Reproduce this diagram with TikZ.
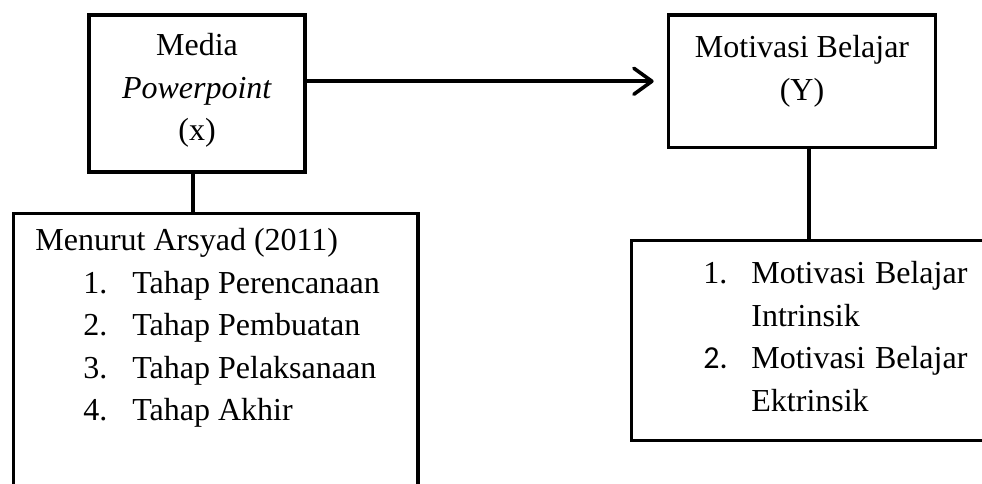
\documentclass[tikz,border=0pt]{standalone}
\usepackage{fontspec}
\setmainfont{Liberation Serif}
\newfontfamily\numfont{Carlito}
\usetikzlibrary{arrows.meta, positioning}

\begin{document}
\begin{tikzpicture}[
  x=0.5pt, y=-0.5pt,
  box/.style={draw=black, line width=1.8pt, inner sep=0pt},
  txt/.style={inner sep=0pt, font=\fontsize{16}{21.25}\selectfont},
  conn/.style={line width=1.8pt},
  arr/.style={conn, -{Straight Barb[length=9pt, width=13pt, round]}, shorten >=6.5pt}
]
  \useasboundingbox (0,0) rectangle (982,483);
  \clip (0,0) rectangle (982,483);

  \node[box, minimum width=108pt, minimum height=78.5pt] (media) at (197,93.5) {};
  \node[box, minimum width=202.25pt, minimum height=153.25pt] (arsyad) at (215.75,366.75) {};
  \node[box, minimum width=133.5pt, minimum height=66.25pt] (motiv) at (802,81.25) {};
  \node[box, minimum width=184.25pt, minimum height=100pt] (indik) at (815.75,340.5) {};

  \node[txt, anchor=north, align=center] (mediatext) at (197,33) {Media\\\textit{Powerpoint}\\(x)};
  \node[txt, anchor=north, align=center] (motivtext) at (802,35) {Motivasi Belajar\\(Y)};
  \node[txt, anchor=north west, align=left] (arsyadtext) at (35,228) {Menurut Arsyad (2011)\\
    \hspace*{24pt}\makebox[24.5pt][l]{1.}Tahap Perencanaan\\
    \hspace*{24pt}\makebox[24.5pt][l]{2.}Tahap Pembuatan\\
    \hspace*{24pt}\makebox[24.5pt][l]{3.}Tahap Pelaksanaan\\
    \hspace*{24pt}\makebox[24.5pt][l]{4.}Tahap Akhir};
  \node[txt, anchor=north west, align=left] (indiktext) at (703,261) {%
    \makebox[24pt][l]{1.}\makebox[108pt][s]{Motivasi Belajar}\\
    \hspace*{24pt}Intrinsik\\
    \makebox[24pt][l]{\numfont 2.}\makebox[108pt][s]{Motivasi Belajar}\\
    \hspace*{24pt}Ektrinsik};

  \draw[arr] (media.east |- motiv.west) -- (motiv.west);
  \draw[conn] ([xshift=-2pt]media.south) -- ([xshift=-2pt]media.south |- arsyad.north);
  \draw[conn] ([xshift=3.5pt]motiv.south) -- ([xshift=3.5pt]motiv.south |- indik.north);
\end{tikzpicture}
\end{document}
